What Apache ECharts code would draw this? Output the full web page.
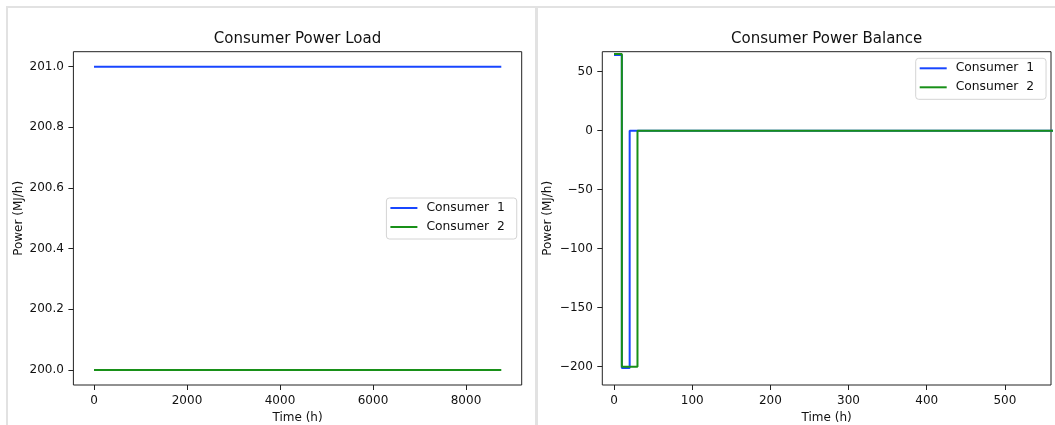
<!DOCTYPE html>
<html>
<head>
<meta charset="utf-8">
<script src="https://cdn.jsdelivr.net/npm/echarts@6/dist/echarts.min.js"></script>
<style>
html,body{margin:0;padding:0;background:#fff;}
#c{width:1055px;height:425px;}
</style>
</head>
<body>
<div id="c"></div>
<script>
// ---- data ----
const seriesNames = ['Consumer  1', 'Consumer  2'];
// Left chart: Consumer Power Load (hours 0..8759)
const loadTime = [0, 8759];
const loadC1 = [201, 201];
const loadC2 = [200, 200];
// Right chart: Consumer Power Balance (step breakpoints)
const balTimeC1 = [0, 10, 20, 8759];
const balC1 = [64, -201, 0, 0];
const balTimeC2 = [0, 10, 30, 8759];
const balC2 = [65, -200, 0, 0];
// tick labels
const loadXTicks = [0, 2000, 4000, 6000, 8000];
const loadYTicks = [200.0, 200.2, 200.4, 200.6, 200.8, 201.0];
const balXTicks = [0, 100, 200, 300, 400, 500];
const balYTicks = [-200, -150, -100, -50, 0, 50];

const zip = (xs, ys) => xs.map((x, i) => [x, ys[i]]);
const BLUE = '#1846ff', GREEN = '#189018';
const FONT = 'DejaVu Sans';
const TXT = '#111';

function xAxis(gridIndex, min, max, ticks) {
  return {
    type: 'value', gridIndex, min, max,
    name: 'Time (h)', nameLocation: 'middle', nameGap: 25,
    nameTextStyle: {fontFamily: FONT, fontSize: 12, color: TXT},
    axisLine: {show: false, onZero: false},
    axisTick: {show: true, length: 5, customValues: ticks, lineStyle: {color: '#222', width: 1}},
    axisLabel: {show: true, customValues: ticks, margin: 9.5, fontFamily: FONT, fontSize: 12, color: TXT,
      formatter: v => String(Math.round(v))},
    splitLine: {show: false}
  };
}
function yAxis(gridIndex, min, max, ticks, fmt, gap) {
  return {
    type: 'value', gridIndex, min, max,
    name: 'Power (MJ/h)', nameLocation: 'middle', nameGap: gap, nameRotate: 90,
    nameTextStyle: {fontFamily: FONT, fontSize: 12, color: TXT},
    axisLine: {show: false, onZero: false},
    axisTick: {show: true, length: 5, customValues: ticks, lineStyle: {color: '#222', width: 1}},
    axisLabel: {show: true, customValues: ticks, margin: 9.5, fontFamily: FONT, fontSize: 12, color: TXT,
      formatter: fmt},
    splitLine: {show: false}
  };
}
function legend(left, top) {
  return {
    data: seriesNames, orient: 'vertical', left, top,
    icon: 'rect', itemWidth: 27, itemHeight: 2, itemGap: 5,
    padding: [3, 12, 5, 4],
    backgroundColor: 'rgba(255,255,255,0.8)', borderColor: '#d4d4d4', borderWidth: 1, borderRadius: 3,
    textStyle: {fontFamily: FONT, fontSize: 12.3, color: TXT, lineHeight: 14, padding: [0, 0, 0, 4]},
    selectedMode: false
  };
}
function line(name, data, color, xi, step) {
  return {
    type: 'line', name, data, xAxisIndex: xi, yAxisIndex: xi,
    showSymbol: false, symbol: 'none', step: step ? 'end' : false,
    lineStyle: {color, width: 2}, itemStyle: {color}, clip: true, animation: false, z: name.endsWith('2') ? 3 : 2
  };
}

const chart = echarts.init(document.getElementById('c'), null, {renderer: 'canvas'});
chart.setOption({
  animation: false,
  backgroundColor: '#fff',
  title: [
    {text: 'Consumer Power Load', left: 297.5, top: 31.5, textAlign: 'center', padding: 0,
      textStyle: {fontFamily: FONT, fontSize: 15, fontWeight: 'normal', color: TXT}},
    {text: 'Consumer Power Balance', left: 826.7, top: 31.5, textAlign: 'center', padding: 0,
      textStyle: {fontFamily: FONT, fontSize: 15, fontWeight: 'normal', color: TXT}}
  ],
  grid: [
    {left: 73.4, top: 51.7, width: 448.3, height: 333.3, show: true, borderColor: '#222', borderWidth: 1,
      backgroundColor: 'transparent', outerBoundsMode: 'none', containLabel: false},
    {left: 602.3, top: 51.7, width: 448.7, height: 333.3, show: true, borderColor: '#222', borderWidth: 1,
      backgroundColor: 'transparent', outerBoundsMode: 'none', containLabel: false}
  ],
  xAxis: [
    xAxis(0, -443, 9198, loadXTicks),
    xAxis(1, -15, 559, balXTicks)
  ],
  yAxis: [
    yAxis(0, 199.9505, 201.0495, loadYTicks, v => v.toFixed(1), 49),
    yAxis(1, -215.5, 66.9, balYTicks, v => (v < 0 ? '\u2212' + Math.abs(v) : String(v)), 48.5)
  ],
  legend: [legend(386.4, 198), legend(915.7, 58.3)],
  series: [
    line(seriesNames[0], zip(loadTime, loadC1), BLUE, 0, false),
    line(seriesNames[1], zip(loadTime, loadC2), GREEN, 0, false),
    line(seriesNames[0], zip(balTimeC1, balC1), BLUE, 1, true),
    line(seriesNames[1], zip(balTimeC2, balC2), GREEN, 1, true)
  ],
  graphic: [
    {type: 'rect', shape: {x: 6, y: 6, width: 1049, height: 2}, style: {fill: '#e2e2e2'}, silent: true},
    {type: 'rect', shape: {x: 6, y: 6, width: 2, height: 419}, style: {fill: '#e2e2e2'}, silent: true},
    {type: 'rect', shape: {x: 535, y: 6, width: 3, height: 419}, style: {fill: '#e2e2e2'}, silent: true}
  ]
});
</script>
</body>
</html>
